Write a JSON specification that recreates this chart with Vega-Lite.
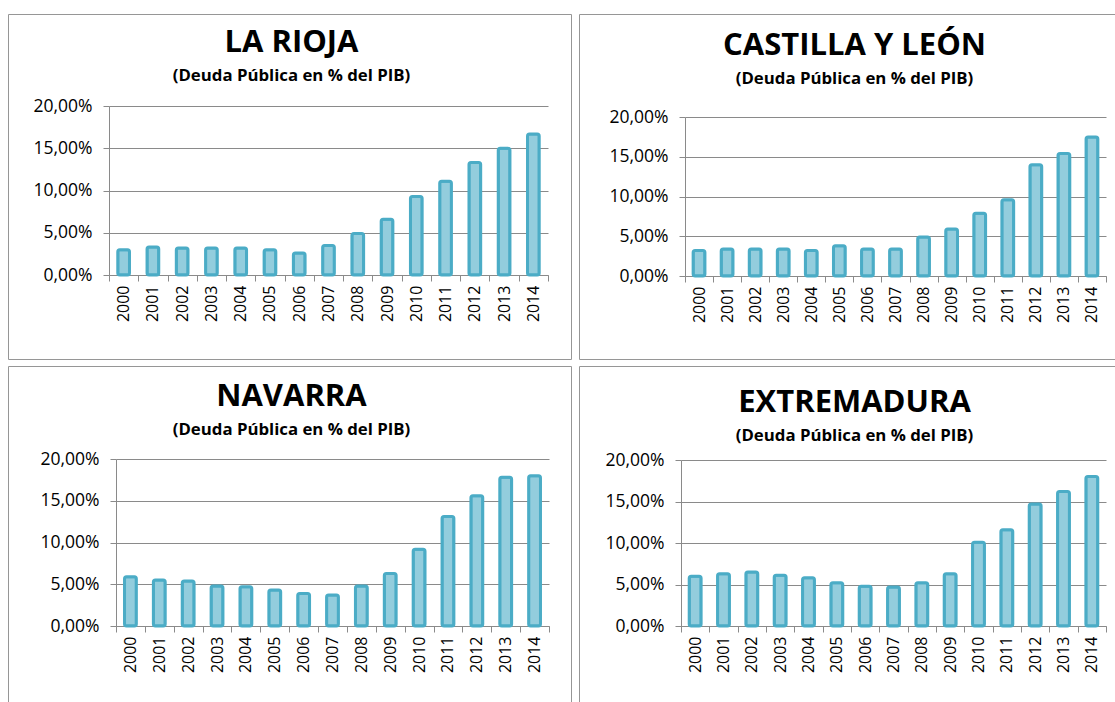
{
  "$schema": "https://vega.github.io/schema/vega-lite/v6.json",
  "padding": {"left": -1, "top": 13, "right": 0, "bottom": 0},
  "background": "#ffffff",
  "columns": 2,
  "bounds": "flush",
  "spacing": {"row": 7, "column": 8},
  "data": {"values": [
    {"region": "LA RIOJA", "year": "2000", "deuda": 3.0},
    {"region": "LA RIOJA", "year": "2001", "deuda": 3.3},
    {"region": "LA RIOJA", "year": "2002", "deuda": 3.2},
    {"region": "LA RIOJA", "year": "2003", "deuda": 3.2},
    {"region": "LA RIOJA", "year": "2004", "deuda": 3.2},
    {"region": "LA RIOJA", "year": "2005", "deuda": 3.0},
    {"region": "LA RIOJA", "year": "2006", "deuda": 2.6},
    {"region": "LA RIOJA", "year": "2007", "deuda": 3.5},
    {"region": "LA RIOJA", "year": "2008", "deuda": 4.9},
    {"region": "LA RIOJA", "year": "2009", "deuda": 6.6},
    {"region": "LA RIOJA", "year": "2010", "deuda": 9.3},
    {"region": "LA RIOJA", "year": "2011", "deuda": 11.1},
    {"region": "LA RIOJA", "year": "2012", "deuda": 13.3},
    {"region": "LA RIOJA", "year": "2013", "deuda": 15.0},
    {"region": "LA RIOJA", "year": "2014", "deuda": 16.7},
    {"region": "CASTILLA Y LEÓN", "year": "2000", "deuda": 3.2},
    {"region": "CASTILLA Y LEÓN", "year": "2001", "deuda": 3.4},
    {"region": "CASTILLA Y LEÓN", "year": "2002", "deuda": 3.4},
    {"region": "CASTILLA Y LEÓN", "year": "2003", "deuda": 3.4},
    {"region": "CASTILLA Y LEÓN", "year": "2004", "deuda": 3.2},
    {"region": "CASTILLA Y LEÓN", "year": "2005", "deuda": 3.8},
    {"region": "CASTILLA Y LEÓN", "year": "2006", "deuda": 3.4},
    {"region": "CASTILLA Y LEÓN", "year": "2007", "deuda": 3.4},
    {"region": "CASTILLA Y LEÓN", "year": "2008", "deuda": 4.9},
    {"region": "CASTILLA Y LEÓN", "year": "2009", "deuda": 5.9},
    {"region": "CASTILLA Y LEÓN", "year": "2010", "deuda": 7.9},
    {"region": "CASTILLA Y LEÓN", "year": "2011", "deuda": 9.6},
    {"region": "CASTILLA Y LEÓN", "year": "2012", "deuda": 14.0},
    {"region": "CASTILLA Y LEÓN", "year": "2013", "deuda": 15.4},
    {"region": "CASTILLA Y LEÓN", "year": "2014", "deuda": 17.5},
    {"region": "NAVARRA", "year": "2000", "deuda": 5.9},
    {"region": "NAVARRA", "year": "2001", "deuda": 5.5},
    {"region": "NAVARRA", "year": "2002", "deuda": 5.4},
    {"region": "NAVARRA", "year": "2003", "deuda": 4.8},
    {"region": "NAVARRA", "year": "2004", "deuda": 4.7},
    {"region": "NAVARRA", "year": "2005", "deuda": 4.3},
    {"region": "NAVARRA", "year": "2006", "deuda": 3.9},
    {"region": "NAVARRA", "year": "2007", "deuda": 3.7},
    {"region": "NAVARRA", "year": "2008", "deuda": 4.8},
    {"region": "NAVARRA", "year": "2009", "deuda": 6.3},
    {"region": "NAVARRA", "year": "2010", "deuda": 9.2},
    {"region": "NAVARRA", "year": "2011", "deuda": 13.1},
    {"region": "NAVARRA", "year": "2012", "deuda": 15.6},
    {"region": "NAVARRA", "year": "2013", "deuda": 17.8},
    {"region": "NAVARRA", "year": "2014", "deuda": 18.0},
    {"region": "EXTREMADURA", "year": "2000", "deuda": 6.0},
    {"region": "EXTREMADURA", "year": "2001", "deuda": 6.3},
    {"region": "EXTREMADURA", "year": "2002", "deuda": 6.5},
    {"region": "EXTREMADURA", "year": "2003", "deuda": 6.1},
    {"region": "EXTREMADURA", "year": "2004", "deuda": 5.8},
    {"region": "EXTREMADURA", "year": "2005", "deuda": 5.2},
    {"region": "EXTREMADURA", "year": "2006", "deuda": 4.8},
    {"region": "EXTREMADURA", "year": "2007", "deuda": 4.7},
    {"region": "EXTREMADURA", "year": "2008", "deuda": 5.2},
    {"region": "EXTREMADURA", "year": "2009", "deuda": 6.3},
    {"region": "EXTREMADURA", "year": "2010", "deuda": 10.1},
    {"region": "EXTREMADURA", "year": "2011", "deuda": 11.6},
    {"region": "EXTREMADURA", "year": "2012", "deuda": 14.7},
    {"region": "EXTREMADURA", "year": "2013", "deuda": 16.2},
    {"region": "EXTREMADURA", "year": "2014", "deuda": 18.0}
  ]},
  "concat": [
    {
      "width": 563, "height": 345,
      "title": {"text": "LA RIOJA", "subtitle": "(Deuda Pública  en % del PIB)", "offset": -72, "dx": 2},
      "transform": [{"filter": "datum.region === 'LA RIOJA'"}],
      "mark": {"type": "bar", "width": {"band": 0.4}},
      "encoding": {
        "x": {"field": "year", "type": "ordinal", "title": null,
              "scale": {"range": [101, 540], "paddingInner": 0, "paddingOuter": 0},
              "axis": {"offset": -84}},
        "y": {"field": "deuda", "type": "quantitative", "title": null,
              "scale": {"domain": [0, 20], "range": [261, 92], "nice": false},
              "axis": {"offset": -101, "values": [0, 5, 10, 15, 20], "labelExpr": "replace(format(datum.value, '.2f'), '.', ',') + '%'"}}
      }
    },
    {
      "width": 537, "height": 345,
      "title": {"text": "CASTILLA Y LEÓN", "subtitle": "(Deuda Pública  en % del PIB)", "offset": -75, "dx": 7},
      "transform": [{"filter": "datum.region === 'CASTILLA Y LEÓN'"}],
      "mark": {"type": "bar", "width": {"band": 0.42}},
      "encoding": {
        "x": {"field": "year", "type": "ordinal", "title": null,
              "scale": {"range": [106, 527], "paddingInner": 0, "paddingOuter": 0},
              "axis": {"offset": -83}},
        "y": {"field": "deuda", "type": "quantitative", "title": null,
              "scale": {"domain": [0, 20], "range": [262, 103], "nice": false},
              "axis": {"offset": -106, "values": [0, 5, 10, 15, 20], "labelExpr": "replace(format(datum.value, '.2f'), '.', ',') + '%'"}}
      }
    },
    {
      "width": 563, "height": 345,
      "title": {"text": "NAVARRA", "subtitle": "(Deuda Pública  en % del PIB)", "offset": -74, "dx": 2},
      "transform": [{"filter": "datum.region === 'NAVARRA'"}],
      "mark": {"type": "bar", "width": {"band": 0.41}},
      "encoding": {
        "x": {"field": "year", "type": "ordinal", "title": null,
              "scale": {"range": [108, 541], "paddingInner": 0, "paddingOuter": 0},
              "axis": {"offset": -85}},
        "y": {"field": "deuda", "type": "quantitative", "title": null,
              "scale": {"domain": [0, 20], "range": [260, 93], "nice": false},
              "axis": {"offset": -108, "values": [0, 5, 10, 15, 20], "labelExpr": "replace(format(datum.value, '.2f'), '.', ',') + '%'"}}
      }
    },
    {
      "width": 537, "height": 345,
      "title": {"text": "EXTREMADURA", "subtitle": "(Deuda Pública  en % del PIB)", "offset": -80, "dx": 7},
      "transform": [{"filter": "datum.region === 'EXTREMADURA'"}],
      "mark": {"type": "bar", "width": {"band": 0.42}},
      "encoding": {
        "x": {"field": "year", "type": "ordinal", "title": null,
              "scale": {"range": [102, 527], "paddingInner": 0, "paddingOuter": 0},
              "axis": {"offset": -85}},
        "y": {"field": "deuda", "type": "quantitative", "title": null,
              "scale": {"domain": [0, 20], "range": [260, 94], "nice": false},
              "axis": {"offset": -102, "values": [0, 5, 10, 15, 20], "labelExpr": "replace(format(datum.value, '.2f'), '.', ',') + '%'"}}
      }
    }
  ],
  "config": {
    "font": "Open Sans",
    "view": {"stroke": "#969696", "strokeWidth": 1},
    "bar": {"fill": "#93CDDD", "stroke": "#4BACC6", "strokeWidth": 3, "cornerRadius": 2},
    "axis": {"domainColor": "#8a8a8a", "tickColor": "#8a8a8a", "gridColor": "#8a8a8a", "gridOpacity": 1,
             "labelColor": "#000000", "labelFont": "Open Sans", "tickSize": 6, "domainWidth": 1, "gridWidth": 1, "tickWidth": 1},
    "axisX": {"labelAngle": -90, "tickBand": "extent", "grid": false, "labelFontSize": 16, "labelPadding": 4},
    "axisY": {"labelFontSize": 17.5, "labelPadding": 11, "grid": true},
    "title": {"fontSize": 31, "fontWeight": "bold", "color": "#000000", "anchor": "middle", "frame": "group",
              "subtitleFontSize": 16.8, "subtitleFontWeight": "bold", "subtitleColor": "#000000", "subtitlePadding": 9,
              "font": "Open Sans", "subtitleFont": "Open Sans"}
  }
}
